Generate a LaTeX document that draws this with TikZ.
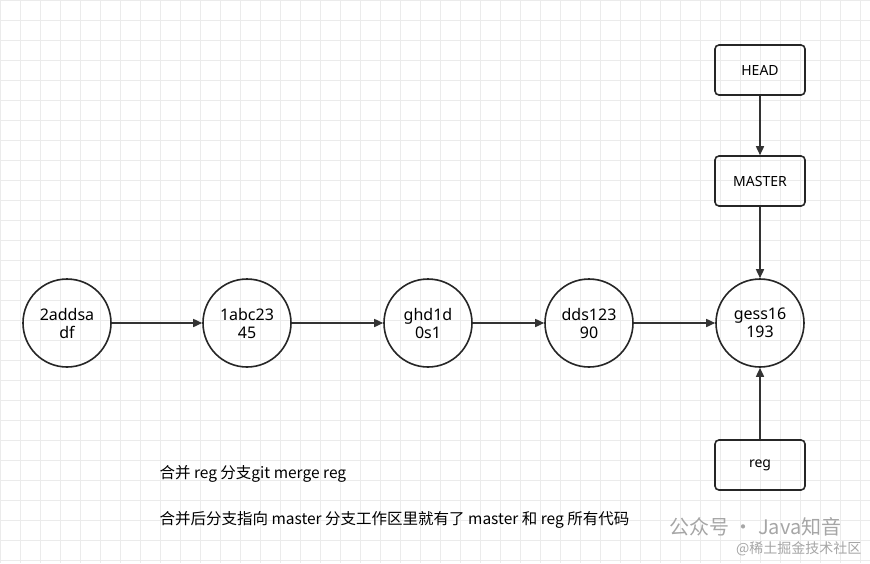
\documentclass[tikz,border=0pt]{standalone}
\usepackage{fontspec}
\setmainfont{Noto Sans}
\newfontfamily\cjk{Noto Sans CJK SC}
\usetikzlibrary{arrows.meta}
\begin{document}
\begin{tikzpicture}[x=1pt,y=-1pt,
  commit/.style={circle,draw=black!85,line width=1.6pt,minimum size=88pt,inner sep=0pt,align=center,font=\fontsize{16}{18}\selectfont},
  box/.style={draw=black!85,line width=1.6pt,rounded corners=4pt,minimum width=90pt,minimum height=50pt,font=\fontsize{14}{16}\selectfont},
  arr/.style={-{Triangle[length=9pt,width=8pt]},line width=1.6pt,draw=black!80}]
\fill[white] (0,0) rectangle (870,563);
\useasboundingbox (0,0) rectangle (870,563);
\foreach \i in {0,20,...,860} \draw[black!8,line width=0.6pt] (\i,0) -- (\i,563);
\foreach \j in {0,20,...,560} \draw[black!8,line width=0.6pt] (0,\j) -- (870,\j);
\node[commit] (a) at (67,323) {2addsa\\df};
\node[commit] (b) at (247,323) {1abc23\\45};
\node[commit] (c) at (428,323) {ghd1d\\0s1};
\node[commit] (d) at (589,323) {dds123\\90};
\node[commit] (e) at (760,323) {gess16\\193};
\node[box] (head) at (760,70) {HEAD};
\node[box] (master) at (760,181) {MASTER};
\node[box] (reg) at (760,465) {reg};
\draw[arr] (a) -- (b);
\draw[arr] (b) -- (c);
\draw[arr] (c) -- (d);
\draw[arr] (d) -- (e);
\draw[arr] (head) -- (master);
\draw[arr] (master) -- (e);
\draw[arr] (reg) -- (e);
\node[anchor=west,font=\cjk\fontsize{15.5}{17}\selectfont] (t1) at (156,474) {合并 reg 分支git merge reg};
\node[anchor=west,font=\cjk\fontsize{15.5}{17}\selectfont] (t2) at (156,520) {合并后分支指向 master 分支工作区里就有了 master 和 reg 所有代码};
\node[anchor=east,text=black!35,font=\cjk\fontsize{20}{22}\selectfont] (w1) at (845,527) {公众号 · Java知音};
\node[anchor=east,text=black!35,font=\cjk\fontsize{14}{16}\selectfont] (w2) at (865,549) {@稀土掘金技术社区};
\end{tikzpicture}
\end{document}
